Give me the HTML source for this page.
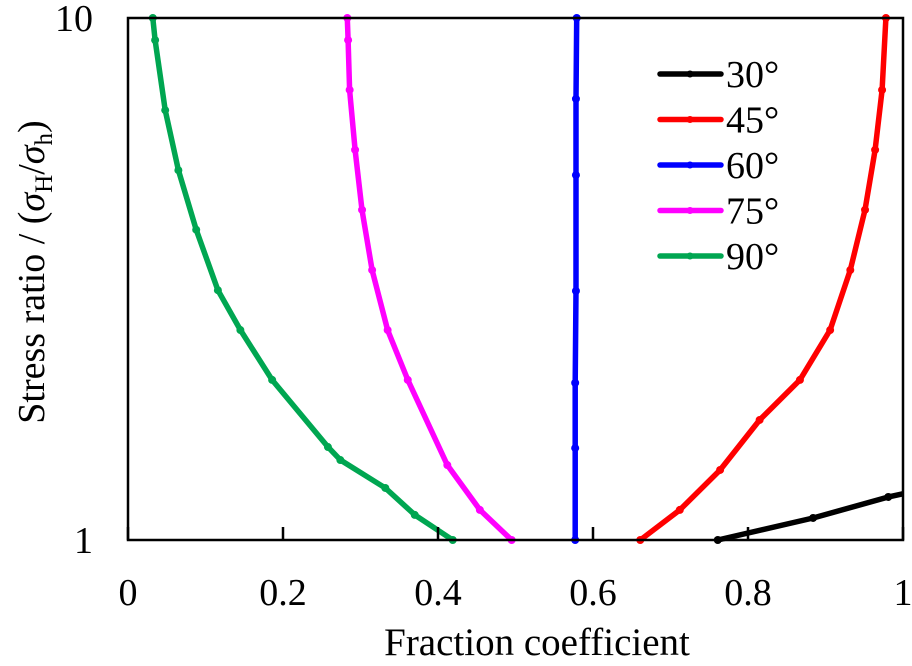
<!DOCTYPE html>
<html><head><meta charset="utf-8"><style>
body{margin:0;background:#fff}
svg, svg text{font-family:"Liberation Serif","Times New Roman",Times,serif}
</style></head><body>
<svg id="chart" width="912" height="661" viewBox="0 0 912 661" font-family="Liberation Serif, Times New Roman, serif">
<defs><clipPath id="clip"><rect x="128" y="12" width="776" height="532"/></clipPath></defs>
<g id="series" clip-path="url(#clip)"></g>
<rect x="128" y="18" width="775" height="522" fill="none" stroke="#000" stroke-width="2.5"/>
<g id="axes"></g>
<text x="537" y="655" font-size="39" font-family="Liberation Serif, serif" text-anchor="middle">Fraction coefficient</text>
<text transform="translate(44,272) rotate(-90)" font-size="38" font-family="Liberation Serif, serif" text-anchor="middle">Stress ratio / (<tspan font-style="italic">σ</tspan><tspan font-size="25" dy="8">H</tspan><tspan dy="-8">/</tspan><tspan font-style="italic">σ</tspan><tspan font-size="25" dy="8">h</tspan><tspan dy="-8">)</tspan></text>
<g id="legend"></g>
</svg>
<script>
const seriesNames = ["30°","45°","60°","75°","90°"];
const seriesColors = ["#000000","#ff0000","#0000ff","#ff00ff","#00a651"];
const mu30 = [0.761,0.884,0.981,1.02];
const r30 = [1,1.102,1.209,1.245];
const mu45 = [0.661,0.712,0.764,0.815,0.867,0.906,0.932,0.951,0.964,0.973,0.978];
const r45 = [1,1.142,1.362,1.698,2.026,2.525,3.29,4.29,5.59,7.28,10];
const mu60 = [0.577,0.577,0.577,0.578,0.578,0.578,0.579];
const r60 = [1,1.5,2,3,5,7,10];
const mu75 = [0.495,0.454,0.412,0.361,0.335,0.315,0.302,0.293,0.286,0.284,0.283];
const r75 = [1,1.142,1.392,2.026,2.525,3.29,4.29,5.59,7.28,9.07,10];
const mu90 = [0.419,0.370,0.332,0.274,0.258,0.186,0.145,0.116,0.088,0.065,0.048,0.035,0.032];
const r90 = [1,1.117,1.258,1.423,1.507,2.026,2.525,3.01,3.93,5.11,6.66,9.07,10];
const xTicks = [0,0.2,0.4,0.6,0.8,1];
const xTickLabels = ["0","0.2","0.4","0.6","0.8","1"];
const yTicks = [1,10];
const yTickLabels = ["1","10"];

const NS="http://www.w3.org/2000/svg";
const FF="Liberation Serif, Times New Roman, serif";
const X0=128,X1=903,Y0=540,Y1=18;
function xs(v){return X0+(X1-X0)*v;}
function ys(v){return Y0-(Y0-Y1)*Math.log10(v);}
function mk(t,a,p){const e=document.createElementNS(NS,t);for(const k in a)e.setAttribute(k,a[k]);p.appendChild(e);return e;}

const sg=document.getElementById('series');
const allMu=[mu30,mu45,mu60,mu75,mu90], allR=[r30,r45,r60,r75,r90];
allMu.forEach((mu,i)=>{
  const d=mu.map((m,j)=>(j?'L':'M')+xs(m).toFixed(1)+' '+ys(allR[i][j]).toFixed(1)).join(' ');
  const p=mk('path',{d:d,fill:'none',stroke:seriesColors[i],'stroke-width':5.5,'stroke-linejoin':'round','stroke-linecap':'round'},sg);
  
  
  mu.forEach((m,j)=>{
    const c=mk('circle',{cx:xs(m),cy:ys(allR[i][j]),r:4,fill:seriesColors[i]},sg);
    
    
  });
});

const ax=document.getElementById('axes');
xTicks.forEach((t,i)=>{
  const l=mk('line',{x1:xs(t),x2:xs(t),y1:Y0,y2:Y0-13,stroke:'#000','stroke-width':2.5},ax);
  
  
  const tx=mk('text',{x:xs(t),y:605,'font-size':38,'font-family':FF,'text-anchor':'middle'},ax);
  tx.textContent=xTickLabels[i];
  
  
});
yTicks.forEach((t,i)=>{
  const tx=mk('text',{x:93,y:ys(t)+13,'font-size':38,'font-family':FF,'text-anchor':'end'},ax);
  tx.textContent=yTickLabels[i];
  
  
});

const lg=document.getElementById('legend');
seriesNames.forEach((n,i)=>{
  const y=74+i*45.5;
  const g=mk('g',{},lg);
  
  
  mk('line',{x1:660,x2:721,y1:y,y2:y,stroke:seriesColors[i],'stroke-width':5.5,'stroke-linecap':'round'},g);
  mk('circle',{cx:690,cy:y,r:3.5,fill:seriesColors[i]},g);
  const t=mk('text',{x:726,y:y+13,'font-size':38,'font-family':FF},g);
  t.textContent=n;
});
</script>
</body></html>
